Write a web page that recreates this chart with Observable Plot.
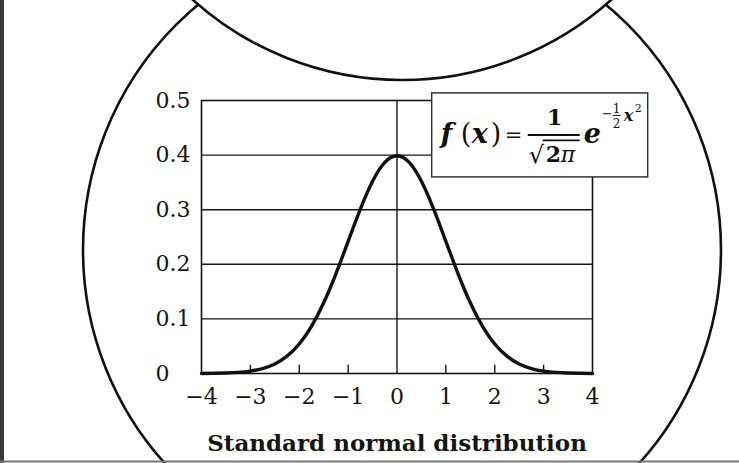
<!DOCTYPE html>
<html>
<head>
<meta charset="utf-8">
<script src="https://cdn.jsdelivr.net/npm/d3@7"></script>
<script src="https://cdn.jsdelivr.net/npm/@observablehq/plot@0.6"></script>
<style>
  html, body { margin: 0; padding: 0; background: #fff; }
  #chart svg { display: block; }
</style>
</head>
<body>
<div id="chart"></div>
<script>
// ---- data ----
const curveX = [-4, -3.75, -3.5, -3.25, -3, -2.75, -2.5, -2.25, -2, -1.75, -1.5, -1.25, -1, -0.75, -0.5, -0.25,
                0, 0.25, 0.5, 0.75, 1, 1.25, 1.5, 1.75, 2, 2.25, 2.5, 2.75, 3, 3.25, 3.5, 3.75, 4];
const curveY = [0.0001, 0.0004, 0.0009, 0.002, 0.0044, 0.0091, 0.0175, 0.0317, 0.054, 0.0863, 0.1295, 0.1826, 0.242, 0.3011, 0.3521, 0.3867,
                0.3989, 0.3867, 0.3521, 0.3011, 0.242, 0.1826, 0.1295, 0.0863, 0.054, 0.0317, 0.0175, 0.0091, 0.0044, 0.002, 0.0009, 0.0004, 0.0001];
const xTicks = [-4, -3, -2, -1, 0, 1, 2, 3, 4];
const xTickLabels = ["\u22124", "\u22123", "\u22122", "\u22121", "0", "1", "2", "3", "4"];
const xMinorTicks = [-3, -2, -1, 1, 2, 3];
const yTicks = [0, 0.1, 0.2, 0.3, 0.4, 0.5];
const yTickLabels = ["0", "0.1", "0.2", "0.3", "0.4", "0.5"];
const yGrid = [0.1, 0.2, 0.3, 0.4];
const xCenterLine = [0];
const titleText = "Standard normal distribution";

const curve = curveX.map((x, i) => ({x, y: curveY[i]}));
const ink = "#151515";
const serif = "'DejaVu Serif', 'Liberation Serif', serif";

const plot = Plot.plot({
  width: 739,
  height: 463,
  marginLeft: 201,
  marginRight: 147,
  marginTop: 100,
  marginBottom: 90,
  style: {fontFamily: serif, background: "#fff", color: ink},
  x: {domain: [-4, 4]},
  y: {domain: [0, 0.5]},
  marks: [
    Plot.ruleY(yGrid, {stroke: ink, strokeWidth: 1.4}),
    Plot.ruleX(xCenterLine, {stroke: ink, strokeWidth: 1.4}),
    Plot.ruleX(xMinorTicks, {y1: 0, y2: 0.015, stroke: ink, strokeWidth: 1.4}),
    Plot.frame({stroke: ink, strokeWidth: 1.6}),
    Plot.line(curve, {x: "x", y: "y", curve: "natural", stroke: "#111", strokeWidth: 3.4}),
    Plot.axisY({ticks: yTicks, tickSize: 0, tickPadding: 46, textAnchor: "start",
                tickFormat: d => yTickLabels[yTicks.indexOf(d)], fontSize: 22, label: null, fill: ink}),
    Plot.axisX({ticks: xTicks, tickSize: 0, tickPadding: 15,
                tickFormat: d => xTickLabels[xTicks.indexOf(d)], fontSize: 22, label: null, fill: ink}),
    Plot.text([titleText], {frameAnchor: "bottom", dy: 70, lineAnchor: "middle",
                fontSize: 23, fontWeight: "bold", fill: ink})
  ]
});
document.getElementById("chart").appendChild(plot);

// ---- decorations (circles, border, formula box) ----
const svg = d3.select(plot);
const sx = plot.scale("x"), sy = plot.scale("y");
const deco = svg.insert("g", ":first-child").attr("stroke", "#111").attr("stroke-width", 2.6);
deco.append("circle").attr("cx", 402).attr("cy", 250).attr("r", 319).attr("fill", "none");
deco.append("circle").attr("cx", 402).attr("cy", -233).attr("r", 313).attr("fill", "#fff");
svg.insert("rect", ":first-child").attr("width", 739).attr("height", 463).attr("fill", "#fff");
svg.append("rect").attr("x", 0).attr("y", 0).attr("width", 4).attr("height", 463).attr("fill", "#3a3a3a");
svg.append("line").attr("x1", 0).attr("x2", 739).attr("y1", 461.5).attr("y2", 461.5)
   .attr("stroke", "#777").attr("stroke-width", 2);

// formula box, anchored to the data scales
const L = sx.apply(0.72), T = sy.apply(0.513);
const g = svg.append("g").attr("transform", `translate(${L},${T})`)
  .attr("font-family", serif).attr("fill", "#111").attr("text-anchor", "start");
g.append("rect").attr("x", 0).attr("y", 0).attr("width", 216).attr("height", 84)
  .attr("fill", "#fff").attr("stroke", "#333").attr("stroke-width", 1.5);
function txt(x, y, s, size, opts = {}) {
  const t = g.append("text").attr("x", x).attr("y", y).attr("font-size", size).text(s);
  if (opts.bold) t.attr("font-weight", "bold");
  if (opts.italic) t.attr("font-style", "italic");
  if (opts.anchor) t.attr("text-anchor", opts.anchor);
  return t;
}
txt(9, 50, "f", 27, {bold: true, italic: true});
txt(29, 50, "(", 27);
txt(40, 50, "x", 27, {bold: true, italic: true});
txt(59, 50, ")", 27);
txt(73, 49, "=", 21);
g.append("line").attr("x1", 96).attr("x2", 148).attr("y1", 42).attr("y2", 42).attr("stroke", "#111").attr("stroke-width", 2);
txt(123, 32, "1", 22, {bold: true, anchor: "middle"});
txt(97, 70, "\u221A", 24);
g.append("line").attr("x1", 111).attr("x2", 148).attr("y1", 47.5).attr("y2", 47.5).attr("stroke", "#111").attr("stroke-width", 1.6);
txt(114, 69, "2", 22, {bold: true});
txt(129, 69, "\u03C0", 22, {italic: true});
txt(152, 50, "e", 27, {bold: true, italic: true});
txt(170, 25, "\u2212", 13);
txt(185, 20, "1", 12, {anchor: "middle"});
g.append("line").attr("x1", 181).attr("x2", 189).attr("y1", 22.5).attr("y2", 22.5).attr("stroke", "#111").attr("stroke-width", 1);
txt(185, 35, "2", 12, {anchor: "middle"});
txt(192, 28, "x", 16, {italic: true, bold: true});
txt(203, 19, "2", 11);
</script>
</body>
</html>
